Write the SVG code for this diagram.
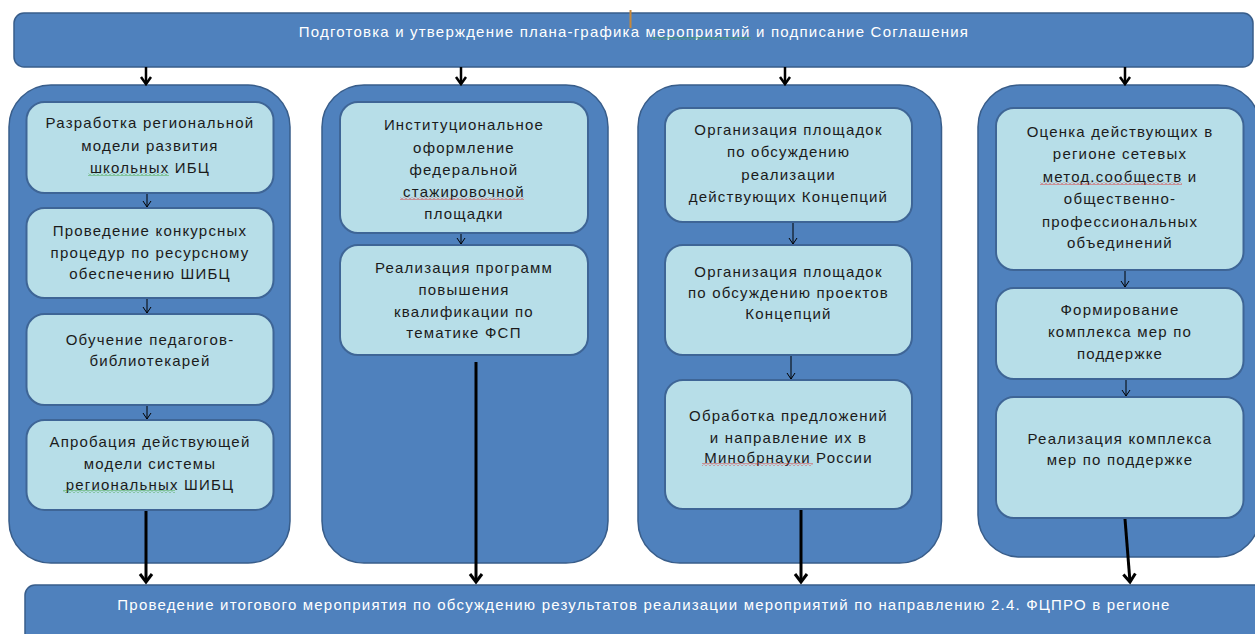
<svg xmlns="http://www.w3.org/2000/svg" width="1255" height="634" viewBox="0 0 1255 634">
<style>
.bar{fill:#4F81BD;stroke:#385D8A;stroke-width:1.5}
.col{fill:#4F81BD;stroke:#385D8A;stroke-width:1.5}
.box{fill:#B7DEE8;stroke:#3E6596;stroke-width:2}
.t{font-family:"Liberation Sans",Arial,sans-serif;font-size:15px;letter-spacing:1.2px;fill:#1b1b1b;text-anchor:middle}
.w{font-family:"Liberation Sans",Arial,sans-serif;font-size:15px;letter-spacing:1.2px;fill:#ffffff;text-anchor:middle}
.big{stroke:#000;stroke-width:3;fill:none}
.mid{stroke:#000;stroke-width:2.5;fill:none}
.sm{stroke:#000;stroke-width:1;fill:none}
</style>
<defs>
<marker id="hb" markerUnits="userSpaceOnUse" orient="auto" refX="0" refY="0" markerWidth="20" markerHeight="20" overflow="visible"><path d="M-8,-6 L0,0 L-8,6" fill="none" stroke="#000" stroke-width="3"/></marker>
<marker id="hm" markerUnits="userSpaceOnUse" orient="auto" refX="0" refY="0" markerWidth="20" markerHeight="20" overflow="visible"><path d="M-7,-5 L0,0 L-7,5" fill="none" stroke="#000" stroke-width="2.5"/></marker>
<marker id="hs" markerUnits="userSpaceOnUse" orient="auto" refX="0" refY="0" markerWidth="20" markerHeight="20" overflow="visible"><path d="M-6,-4 L0,0 L-6,4" fill="none" stroke="#000" stroke-width="1"/></marker>
<pattern id="wr" width="4" height="3" patternUnits="userSpaceOnUse"><path d="M0,2.5 L2,0.5 L4,2.5" fill="none" stroke="#E03030" stroke-width="0.9"/></pattern>
<pattern id="wg" width="4" height="3" patternUnits="userSpaceOnUse"><path d="M0,2.5 L2,0.5 L4,2.5" fill="none" stroke="#3CA03C" stroke-width="0.9"/></pattern>
</defs>

<g id="top">
<rect class="bar" x="14" y="13" width="1239" height="54" rx="10"/>
<text class="w" x="634" y="37">Подготовка и утверждение плана-графика мероприятий и подписание Соглашения</text>
<rect x="652" y="37" width="99" height="3" fill="url(#wg)"/>
<line x1="630.5" y1="10" x2="630.5" y2="28" stroke="#C8883A" stroke-width="2"/>
</g>

<g id="bottom">
<rect class="bar" x="25" y="585" width="1245" height="60" rx="10"/>
<text class="w" x="644" y="610">Проведение итогового мероприятия по обсуждению результатов реализации мероприятий по направлению 2.4. ФЦПРО в регионе</text>
</g>

<g id="col1">
<rect class="col" x="9" y="85" width="281" height="478" rx="42"/>
<g id="n1a"><rect class="box" x="26.5" y="102" width="247" height="91" rx="18"/>
<text class="t" x="150" y="128">Разработка региональной</text>
<text class="t" x="150" y="151">модели развития</text>
<text class="t" x="150" y="173">школьных ИБЦ</text>
<rect x="88" y="173" width="81" height="3" fill="url(#wg)"/></g>
<g id="n1b"><rect class="box" x="26.5" y="208" width="247" height="90" rx="18"/>
<text class="t" x="150" y="236">Проведение конкурсных</text>
<text class="t" x="150" y="258">процедур по ресурсному</text>
<text class="t" x="150" y="279">обеспечению ШИБЦ</text></g>
<g id="n1c"><rect class="box" x="26.5" y="314" width="247" height="91" rx="18"/>
<text class="t" x="150" y="345">Обучение педагогов-</text>
<text class="t" x="150" y="366">библиотекарей</text></g>
<g id="n1d"><rect class="box" x="26.5" y="420" width="247" height="90" rx="18"/>
<text class="t" x="150" y="447">Апробация действующей</text>
<text class="t" x="150" y="469">модели системы</text>
<text class="t" x="150" y="490">региональных ШИБЦ</text>
<rect x="63" y="490" width="112" height="3" fill="url(#wg)"/></g>
</g>

<g id="col2">
<rect class="col" x="322" y="85" width="286" height="478" rx="42"/>
<g id="n2a"><rect class="box" x="340" y="102" width="248" height="131" rx="18"/>
<text class="t" x="464" y="130">Институциональное</text>
<text class="t" x="464" y="153">оформление</text>
<text class="t" x="464" y="175">федеральной</text>
<text class="t" x="464" y="197">стажировочной</text>
<text class="t" x="464" y="219">площадки</text>
<rect x="400" y="197" width="124" height="3" fill="url(#wr)"/></g>
<g id="n2b"><rect class="box" x="340" y="245" width="248" height="110" rx="18"/>
<text class="t" x="464" y="273">Реализация программ</text>
<text class="t" x="464" y="295">повышения</text>
<text class="t" x="464" y="317">квалификации по</text>
<text class="t" x="464" y="338">тематике ФСП</text></g>
</g>

<g id="col3">
<rect class="col" x="638" y="85" width="303.5" height="478" rx="42"/>
<g id="n3a"><rect class="box" x="665" y="108" width="247" height="114" rx="18"/>
<text class="t" x="788.5" y="135">Организация площадок</text>
<text class="t" x="788.5" y="157">по обсуждению</text>
<text class="t" x="788.5" y="180">реализации</text>
<text class="t" x="788.5" y="202">действующих Концепций</text></g>
<g id="n3b"><rect class="box" x="665" y="245" width="247" height="110" rx="18"/>
<text class="t" x="788.5" y="277">Организация площадок</text>
<text class="t" x="788.5" y="298">по обсуждению проектов</text>
<text class="t" x="788.5" y="319">Концепций</text></g>
<g id="n3c"><rect class="box" x="665" y="380" width="247" height="129" rx="18"/>
<text class="t" x="788.5" y="421">Обработка предложений</text>
<text class="t" x="788.5" y="443">и направление их в</text>
<text class="t" x="788.5" y="463">Минобрнауки России</text>
<rect x="702" y="463" width="111" height="3" fill="url(#wr)"/></g>
</g>

<g id="col4">
<rect class="col" x="978" y="85" width="282" height="472" rx="42"/>
<g id="n4a"><rect class="box" x="996" y="108" width="247.5" height="162" rx="18"/>
<text class="t" x="1120" y="137">Оценка действующих в</text>
<text class="t" x="1120" y="159">регионе сетевых</text>
<text class="t" x="1120" y="182">метод.сообществ и</text>
<text class="t" x="1120" y="204">общественно-</text>
<text class="t" x="1120" y="227">профессиональных</text>
<text class="t" x="1120" y="248">объединений</text>
<rect x="1040" y="182" width="142" height="3" fill="url(#wr)"/></g>
<g id="n4b"><rect class="box" x="996" y="288" width="247.5" height="91" rx="18"/>
<text class="t" x="1120" y="315">Формирование</text>
<text class="t" x="1120" y="337">комплекса мер по</text>
<text class="t" x="1120" y="359">поддержке</text></g>
<g id="n4c"><rect class="box" x="996" y="397" width="247.5" height="121" rx="18"/>
<text class="t" x="1120" y="444">Реализация комплекса</text>
<text class="t" x="1120" y="465">мер по поддержке</text></g>
</g>

<g id="connectors">
<line class="mid" x1="146" y1="67" x2="146" y2="84" marker-end="url(#hm)"/>
<line class="mid" x1="461" y1="67" x2="461" y2="84" marker-end="url(#hm)"/>
<line class="mid" x1="785" y1="67" x2="785" y2="84" marker-end="url(#hm)"/>
<line class="mid" x1="1125" y1="67" x2="1125" y2="84" marker-end="url(#hm)"/>
<line class="sm" x1="147" y1="194" x2="147" y2="207" marker-end="url(#hs)"/>
<line class="sm" x1="147" y1="299" x2="147" y2="313" marker-end="url(#hs)"/>
<line class="sm" x1="147" y1="406" x2="147" y2="419" marker-end="url(#hs)"/>
<line class="sm" x1="461" y1="234" x2="461" y2="244" marker-end="url(#hs)"/>
<line class="sm" x1="793" y1="223" x2="793" y2="244" marker-end="url(#hs)"/>
<line class="sm" x1="791" y1="356" x2="791" y2="379" marker-end="url(#hs)"/>
<line class="sm" x1="1125" y1="271" x2="1125" y2="287" marker-end="url(#hs)"/>
<line class="sm" x1="1126" y1="380" x2="1126" y2="396" marker-end="url(#hs)"/>
<line class="big" x1="146" y1="511" x2="146" y2="582" marker-end="url(#hb)"/>
<line class="big" x1="476" y1="362" x2="476" y2="582" marker-end="url(#hb)"/>
<line class="big" x1="801" y1="510" x2="801" y2="582" marker-end="url(#hb)"/>
<line class="big" x1="1125" y1="519" x2="1130" y2="582" marker-end="url(#hb)"/>
</g>
</svg>
